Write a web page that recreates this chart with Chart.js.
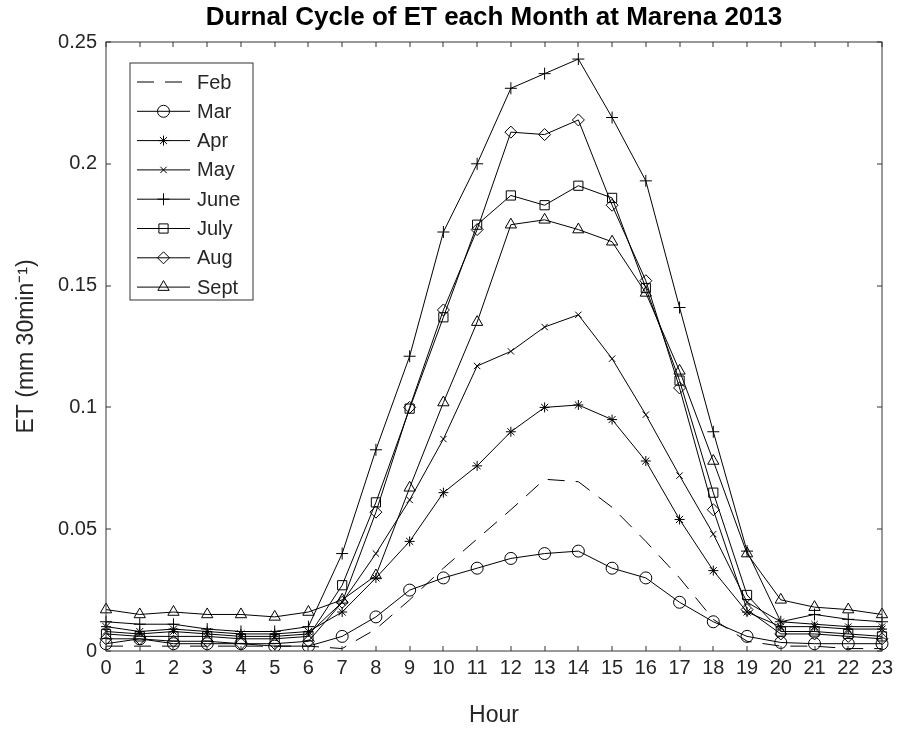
<!DOCTYPE html>
<html>
<head>
<meta charset="utf-8">
<script src="https://cdn.jsdelivr.net/npm/chart.js@4.4.1/dist/chart.umd.min.js"></script>
<style>
  html, body { margin: 0; padding: 0; background: #fff; }
</style>
</head>
<body>
<canvas id="chart" width="899" height="730"></canvas>
<script>
const TITLE = "Durnal Cycle of ET each Month at Marena 2013";
const X_LABEL = "Hour";
const Y_LABEL = "ET (mm 30min\u207B\u00B9)";

const hours = ["0","1","2","3","4","5","6","7","8","9","10","11","12","13","14","15","16","17","18","19","20","21","22","23"];
const yTicks = [0, 0.05, 0.1, 0.15, 0.2, 0.25];

// values, one per hour
const feb  = [0.002,0.002,0.002,0.002,0.002,0.002,0.002,0.001,0.009,0.021,0.034,0.046,0.058,0.0705,0.0695,0.059,0.045,0.030,0.013,0.004,0.002,0.002,0.001,0.001];
const mar  = [0.003,0.005,0.003,0.003,0.003,0.002,0.002,0.006,0.014,0.025,0.030,0.034,0.038,0.040,0.041,0.034,0.030,0.020,0.012,0.006,0.0035,0.003,0.003,0.003];
const apr  = [0.010,0.008,0.009,0.008,0.007,0.007,0.008,0.016,0.030,0.045,0.065,0.076,0.090,0.100,0.101,0.095,0.078,0.054,0.033,0.016,0.010,0.010,0.009,0.009];
const may  = [0.008,0.007,0.008,0.007,0.006,0.006,0.007,0.020,0.040,0.062,0.087,0.117,0.123,0.133,0.138,0.120,0.097,0.072,0.048,0.020,0.012,0.011,0.010,0.010];
const june = [0.012,0.011,0.011,0.009,0.008,0.008,0.010,0.040,0.0826,0.121,0.172,0.200,0.231,0.237,0.243,0.219,0.193,0.141,0.090,0.041,0.012,0.015,0.013,0.012];
const july = [0.007,0.006,0.006,0.006,0.005,0.005,0.006,0.027,0.061,0.0995,0.137,0.175,0.187,0.183,0.191,0.186,0.149,0.111,0.065,0.023,0.008,0.008,0.007,0.006];
const aug  = [0.005,0.005,0.004,0.004,0.003,0.003,0.004,0.020,0.057,0.100,0.140,0.173,0.213,0.212,0.218,0.183,0.152,0.108,0.058,0.017,0.007,0.007,0.006,0.005];
const sept = [0.017,0.015,0.016,0.015,0.015,0.014,0.016,0.021,0.031,0.067,0.102,0.135,0.175,0.177,0.173,0.168,0.147,0.115,0.078,0.040,0.021,0.018,0.017,0.015];

const months = ["Feb","Mar","Apr","May","June","July","Aug","Sept"];
const series = [feb, mar, apr, may, june, july, aug, sept];
const markers = [false, "circle", "star", "crossRot", "cross", "rect", "rectRot", "triangle"];
const markerSize = [0, 6, 5, 4.5, 6, 6.5, 6, 6.5];

const FONT = "'Liberation Sans', Arial, sans-serif";
const INK = "#262626";
const AXIS = "#333";

Chart.defaults.font.family = FONT;
Chart.defaults.color = INK;

// box, inward ticks on all four sides, title and the legend
const framePlugin = {
  id: "frame",
  afterDatasetsDraw(chart) {
    const { ctx, chartArea: a, scales: { x, y } } = chart;
    ctx.save();
    ctx.strokeStyle = AXIS;
    ctx.lineWidth = 1;
    ctx.strokeRect(a.left, a.top, a.right - a.left, a.bottom - a.top);
    ctx.beginPath();
    x.ticks.forEach((t, i) => {
      const px = Math.round(x.getPixelForTick(i));
      ctx.moveTo(px, a.bottom); ctx.lineTo(px, a.bottom - 5);
      ctx.moveTo(px, a.top); ctx.lineTo(px, a.top + 5);
    });
    y.ticks.forEach((t, i) => {
      const py = Math.round(y.getPixelForTick(i));
      ctx.moveTo(a.left, py); ctx.lineTo(a.left + 5, py);
      ctx.moveTo(a.right, py); ctx.lineTo(a.right - 5, py);
    });
    ctx.stroke();

    ctx.fillStyle = "#000";
    ctx.font = "bold 26px " + FONT;
    ctx.textAlign = "center";
    ctx.textBaseline = "middle";
    ctx.fillText(TITLE, (a.left + a.right) / 2, 18);

    // legend
    const bx = a.left + 24, by = a.top + 21, bw = 123, bh = 237;
    ctx.fillStyle = "#fff";
    ctx.fillRect(bx, by, bw, bh);
    ctx.strokeStyle = "#333";
    ctx.strokeRect(bx, by, bw, bh);
    ctx.font = "20px " + FONT;
    ctx.textAlign = "left";
    months.forEach((m, i) => {
      const ry = by + 19 + i * 29.3;
      ctx.strokeStyle = "#000";
      ctx.setLineDash(i === 0 ? [17, 11] : []);
      ctx.beginPath();
      ctx.moveTo(bx + 7, ry); ctx.lineTo(bx + 60, ry);
      ctx.stroke();
      ctx.setLineDash([]);
      if (markers[i] && Chart.helpers && Chart.helpers.drawPoint) {
        ctx.fillStyle = "rgba(0,0,0,0)";
        Chart.helpers.drawPoint(ctx, { pointStyle: markers[i], radius: markerSize[i], rotation: 0, borderWidth: 1 }, bx + 33.5, ry);
      }
      ctx.fillStyle = INK;
      ctx.fillText(m, bx + 67, ry + 1);
    });
    ctx.restore();
  }
};

new Chart(document.getElementById("chart"), {
  type: "line",
  data: {
    labels: hours,
    datasets: series.map((s, i) => ({
      label: months[i],
      data: s,
      borderColor: "#000",
      borderWidth: 1,
      borderDash: i === 0 ? [17, 11] : [],
      pointStyle: markers[i],
      pointRadius: markerSize[i],
      pointBorderColor: "#000",
      pointBackgroundColor: "rgba(0,0,0,0)",
      pointBorderWidth: 1,
      tension: 0,
      fill: false,
    })),
  },
  plugins: [framePlugin],
  options: {
    responsive: false,
    animation: false,
    layout: { padding: { top: 42, right: 17, left: 0, bottom: 0 } },
    plugins: { legend: { display: false }, tooltip: { enabled: false }, title: { display: false } },
    scales: {
      x: {
        type: "category",
        offset: false,
        grid: { display: false, drawTicks: false },
        border: { display: false },
        ticks: { padding: 5, font: { size: 20 }, color: INK, maxRotation: 0, autoSkip: false },
        title: { display: true, text: X_LABEL, font: { size: 23 }, color: INK, padding: { top: 0, bottom: 1 } },
        afterFit: s => { s.height = 79; },
      },
      y: {
        min: 0,
        max: 0.25,
        grid: { display: false, drawTicks: false },
        border: { display: false },
        afterBuildTicks: s => { s.ticks = yTicks.map(v => ({ value: v })); },
        ticks: { padding: 9, font: { size: 20 }, color: INK, callback: v => String(+v.toFixed(2)) },
        title: { display: true, text: Y_LABEL, font: { size: 23 }, color: INK, padding: { top: 13, bottom: 0 } },
        afterFit: s => { s.width = 106; },
      },
    },
  },
});
</script>
</body>
</html>
